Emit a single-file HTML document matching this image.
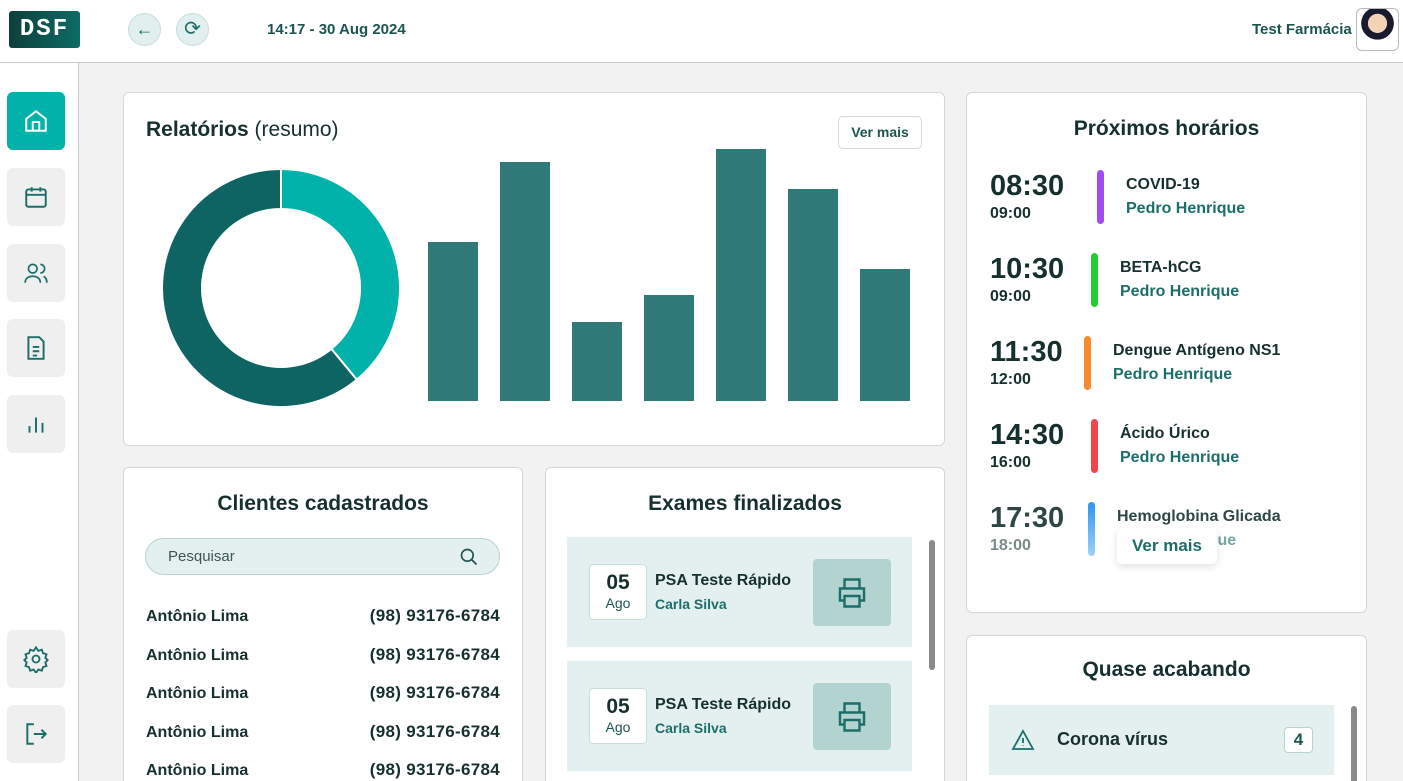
<!DOCTYPE html>
<html><head><meta charset="utf-8"><style>
*{box-sizing:border-box;margin:0;padding:0}
html{width:1403px;height:781px;overflow:hidden}
body{width:1403px;height:781px;overflow:hidden;background:#f2f2f2;font-family:"Liberation Sans",sans-serif;color:#16302e;position:relative}
.abs{position:absolute}
.card{position:absolute;background:#fff;border:1px solid #d6d6d6;border-radius:6px}
.bot{border-bottom:none;border-bottom-left-radius:0;border-bottom-right-radius:0;overflow:hidden}
.side{position:absolute;left:7px;width:58px;height:58px;border-radius:6px;background:#efefef;display:flex;align-items:center;justify-content:center}
.t{position:absolute;white-space:nowrap}
.teal{color:#1b6e6a}
.ex{position:absolute;left:21px;width:345px;height:110px;background:#e4f0ef}
.cl{position:absolute;left:22px;right:22px;height:20px;line-height:20px;font-weight:bold;font-size:16px;display:flex;justify-content:space-between;align-items:baseline}
.cl span+span{font-size:17px;letter-spacing:.3px}
</style></head><body>
<div class="abs" style="left:0;top:0;width:1403px;height:63px;background:#fff;border-bottom:1px solid #ccc"></div>
<div class="abs" style="left:9px;top:11px;width:71px;height:37px;background:linear-gradient(90deg,#0d3f3b,#0d6b66);border-radius:3px;color:#fff;font:bold 24px 'Liberation Mono',monospace;letter-spacing:2px;text-align:center;line-height:37px">DSF</div>
<div class="abs" style="left:128px;top:13px;width:33px;height:33px;border-radius:50%;background:#e1efee;border:1px solid #c9dddb;text-align:center;line-height:31px;color:#1b6e6a;font-size:18px">←</div>
<div class="abs" style="left:176px;top:13px;width:33px;height:33px;border-radius:50%;background:#e1efee;border:1px solid #c9dddb;text-align:center;line-height:31px;color:#1b6e6a;font-size:20px">⟳</div>
<div class="t teal" style="left:267px;top:21px;font-weight:bold;font-size:15px;color:#1c5450">14:17 - 30 Aug 2024</div>
<div class="t" style="left:1252px;top:21px;font-weight:bold;font-size:15px;color:#1c5450">Test Farmácia</div>
<div class="abs" style="left:1356px;top:8px;width:43px;height:43px;border-radius:6px;border:1px solid #bbb;background:radial-gradient(circle at 50% 35%,#f3d2b5 0 28%,#1a1a2e 29% 48%,#fff 49%)"></div>
<div class="abs" style="left:0;top:63px;width:79px;height:718px;background:#fff;border-right:1px solid #ccc"></div>
<div class="side" style="top:92px;background:#00b2a9"><svg width="26" height="26" viewBox="0 0 24 24" fill="none" stroke="#fff" stroke-width="1.8"><path d="M3 10l9-7 9 7v11H3z M9 21v-8h6v8"/></svg></div>
<div class="side" style="top:168px"><svg width="26" height="26" viewBox="0 0 24 24" fill="none" stroke="#1b6e6a" stroke-width="1.8"><rect x="3" y="5" width="18" height="16" rx="2"/><path d="M3 10h18M8 3v4M16 3v4"/></svg></div>
<div class="side" style="top:244px"><svg width="28" height="26" viewBox="0 0 24 24" fill="none" stroke="#1b6e6a" stroke-width="1.6"><circle cx="9" cy="8" r="4"/><path d="M2 21c0-4 3-6 7-6s7 2 7 6M16 4a4 4 0 010 8M19 15c2 1 3 3 3 6"/></svg></div>
<div class="side" style="top:319px"><svg width="26" height="26" viewBox="0 0 24 24" fill="none" stroke="#1b6e6a" stroke-width="1.8"><path d="M5 2h10l4 4v16H5z M9 11h6M9 15h6M9 19h4"/></svg></div>
<div class="side" style="top:395px"><svg width="26" height="26" viewBox="0 0 24 24" fill="none" stroke="#1b6e6a" stroke-width="1.8"><path d="M6 20v-6M12 20V6M18 20v-9"/></svg></div>
<div class="side" style="top:630px"><svg width="28" height="28" viewBox="0 0 24 24" fill="none" stroke="#1b6e6a" stroke-width="1.6"><circle cx="12" cy="12" r="3"/><path d="M12 2l2 3 3-1 1 3 3 1-1 3 2 2-2 2 1 3-3 1-1 3-3-1-2 3-2-3-3 1-1-3-3-1 1-3-2-2 2-2-1-3 3-1 1-3 3 1z"/></svg></div>
<div class="side" style="top:705px"><svg width="26" height="26" viewBox="0 0 24 24" fill="none" stroke="#1b6e6a" stroke-width="1.8"><path d="M10 3H4v18h6M10 12h11M17 8l4 4-4 4"/></svg></div>

<div class="card" style="left:123px;top:92px;width:822px;height:354px">
<div class="t" style="left:22px;top:25px;font-size:21px"><b>Relatórios</b> (resumo)</div>
<div class="abs" style="left:714px;top:23px;width:84px;height:33px;border:1px solid #d6d6d6;border-radius:5px;font-weight:bold;font-size:14px;color:#1c5450;text-align:center;line-height:31px">Ver mais</div>
</div>
<svg class="abs" id="chart" style="left:0;top:0" width="1403" height="781"></svg>

<div class="card" style="left:966px;top:92px;width:401px;height:521px;overflow:hidden">
<div class="t" style="left:0;width:399px;text-align:center;top:24px;font-weight:bold;font-size:21px">Próximos horários</div>
<div id="sched"></div>
<div class="abs" style="left:150px;top:435px;width:100px;height:36px;background:#fff;border-radius:5px;box-shadow:0 3px 8px rgba(0,0,0,.12);font-weight:bold;font-size:17px;color:#1b6e6a;text-align:center;line-height:36px">Ver mais</div>
</div>

<div class="card bot" style="left:123px;top:467px;width:400px;height:314px">
<div class="t" style="left:0;width:398px;text-align:center;top:24px;font-weight:bold;font-size:21px">Clientes cadastrados</div>
<div class="abs" style="left:21px;top:70px;width:355px;height:37px;border:1px solid #b9d3d1;background:#e4f0ef;border-radius:19px;font-size:15px;color:#3d5553;padding:9px 22px">Pesquisar<svg style="position:absolute;right:20px;top:8px" width="20" height="20" viewBox="0 0 24 24" fill="none" stroke="#1c5450" stroke-width="2"><circle cx="10" cy="10" r="7"/><path d="M15 15l6 6"/></svg></div>
<div class="cl" style="top:138px"><span>Antônio Lima</span><span>(98) 93176-6784</span></div>
<div class="cl" style="top:177px"><span>Antônio Lima</span><span>(98) 93176-6784</span></div>
<div class="cl" style="top:215px"><span>Antônio Lima</span><span>(98) 93176-6784</span></div>
<div class="cl" style="top:254px"><span>Antônio Lima</span><span>(98) 93176-6784</span></div>
<div class="cl" style="top:292px"><span>Antônio Lima</span><span>(98) 93176-6784</span></div>
</div>

<div class="card bot" style="left:545px;top:467px;width:400px;height:314px">
<div class="t" style="left:0;width:398px;text-align:center;top:24px;font-weight:bold;font-size:21px">Exames finalizados</div>
<div class="abs" style="left:383px;top:72px;width:6px;height:130px;background:#8a8a8a;border-radius:3px"></div>
<div class="ex" style="top:69px">
<div class="abs" style="left:22px;top:27px;width:58px;height:56px;background:#fff;border:1px solid #c9dddb;border-radius:4px;text-align:center"><div style="font-size:21px;font-weight:bold;margin-top:6px">05</div><div style="font-size:14px;color:#1c5450">Ago</div></div>
<div class="t" style="left:88px;top:35px;font-weight:bold;font-size:16px">PSA Teste Rápido</div>
<div class="t teal" style="left:88px;top:59px;font-weight:bold;font-size:14px">Carla Silva</div>
<div class="abs" style="left:246px;top:22px;width:78px;height:67px;background:#b3d3d1;border-radius:4px;display:flex;align-items:center;justify-content:center"><svg width="36" height="36" viewBox="0 0 24 24" fill="none" stroke="#1b6e6a" stroke-width="1.6"><path d="M7 9V3h10v6M7 17H4V9h16v8h-3M7 14h10v7H7z"/></svg></div></div>
<div class="ex" style="top:193px">
<div class="abs" style="left:22px;top:27px;width:58px;height:56px;background:#fff;border:1px solid #c9dddb;border-radius:4px;text-align:center"><div style="font-size:21px;font-weight:bold;margin-top:6px">05</div><div style="font-size:14px;color:#1c5450">Ago</div></div>
<div class="t" style="left:88px;top:35px;font-weight:bold;font-size:16px">PSA Teste Rápido</div>
<div class="t teal" style="left:88px;top:59px;font-weight:bold;font-size:14px">Carla Silva</div>
<div class="abs" style="left:246px;top:22px;width:78px;height:67px;background:#b3d3d1;border-radius:4px;display:flex;align-items:center;justify-content:center"><svg width="36" height="36" viewBox="0 0 24 24" fill="none" stroke="#1b6e6a" stroke-width="1.6"><path d="M7 9V3h10v6M7 17H4V9h16v8h-3M7 14h10v7H7z"/></svg></div></div>
</div>

<div class="card bot" style="left:966px;top:635px;width:401px;height:146px">
<div class="t" style="left:0;width:399px;text-align:center;top:22px;font-weight:bold;font-size:21px">Quase acabando</div>
<div class="abs" style="left:384px;top:70px;width:6px;height:76px;background:#8a8a8a;border-radius:3px 3px 0 0"></div>
<div class="abs" style="left:22px;top:69px;width:345px;height:70px;background:#e4f0ef">
<svg class="abs" style="left:21px;top:23px" width="26" height="24" viewBox="0 0 24 24" fill="none" stroke="#1b6e6a" stroke-width="1.8"><path d="M12 3l10 18H2z M12 10v5M12 17.5v.5"/></svg>
<div class="t" style="left:68px;top:24px;font-weight:bold;font-size:18px">Corona vírus</div>
<div class="abs" style="left:295px;top:22px;width:29px;height:26px;background:#fff;border:1px solid #b9d3d1;border-radius:4px;text-align:center;line-height:24px;font-weight:bold;font-size:17px;color:#1c5450">4</div></div>
</div>

<script>
const donutLabels=["A","B"];
const donutValues=[39,61];
const barCategories=["1","2","3","4","5","6","7"];
const barValues=[159,239,79,106,252,212,132];
const schedStart=["08:30","10:30","11:30","14:30","17:30"];
const schedEnd=["09:00","09:00","12:00","16:00","18:00"];
const schedExam=["COVID-19","BETA-hCG","Dengue Antígeno NS1","Ácido Úrico","Hemoglobina Glicada"];
const schedName=["Pedro Henrique","Pedro Henrique","Pedro Henrique","Pedro Henrique","Pedro Henrique"];
const schedColor=["#a24cf0","#22cc33","#f58a2e","#f0454a","#3b9cf5"];

const NS="http://www.w3.org/2000/svg";
const svg=document.getElementById('chart');
const cx=281,cy=288,R=119,r=79,colors=["#00b2aa","#0e6462"];
const total=donutValues.reduce((a,b)=>a+b,0);
let ang=0;
function pt(a,rad){return [cx+rad*Math.sin(a),cy-rad*Math.cos(a)];}
donutValues.forEach((v,i)=>{
  const a0=ang,a1=ang+v/total*2*Math.PI;ang=a1;
  const large=(a1-a0)>Math.PI?1:0;
  const [x0,y0]=pt(a0,R),[x1,y1]=pt(a1,R),[x2,y2]=pt(a1,r),[x3,y3]=pt(a0,r);
  const p=document.createElementNS(NS,'path');
  p.setAttribute('d',`M${x0} ${y0}A${R} ${R} 0 ${large} 1 ${x1} ${y1}L${x2} ${y2}A${r} ${r} 0 ${large} 0 ${x3} ${y3}Z`);
  p.setAttribute('fill',colors[i]);p.setAttribute('stroke','#fff');p.setAttribute('stroke-width','2');
  
  
  svg.appendChild(p);
});
const base=401,x0=428,step=72,bw=50;
const yScale=v=>v*1;
barValues.forEach((v,i)=>{
  const h=yScale(v);
  const b=document.createElementNS(NS,'rect');
  b.setAttribute('x',x0+i*step);b.setAttribute('y',base-h);b.setAttribute('width',bw);b.setAttribute('height',h);
  b.setAttribute('fill','#2f7a78');
  
  
  svg.appendChild(b);
});
const sc=document.getElementById('sched');
const barX=[130,124,117,124,121];
schedStart.forEach((s,i)=>{
  const top=77+i*83, last=i===4;
  const d=document.createElement('div');
  
  
  d.style.cssText=`position:absolute;left:0;top:${top}px;width:399px;height:70px;`;
  const bx=barX[i];
  d.innerHTML=`<div style="position:absolute;left:23px;top:0;font-weight:bold;font-size:29px;color:${last?'#2e4745':'#16302e'}">${s}</div>
  <div style="position:absolute;left:23px;top:35px;font-weight:bold;font-size:16px;color:${last?'#7a8a88':'#16302e'}">${schedEnd[i]}</div>
  <div style="position:absolute;left:${bx}px;top:0;width:7px;height:54px;border-radius:4px;background:${last?'linear-gradient(#2d94f5,#9fd0fb)':schedColor[i]}"></div>
  <div style="position:absolute;left:${bx+29}px;top:6px;font-weight:bold;font-size:16px;white-space:nowrap;color:${last?'#2e4745':'#16302e'}">${schedExam[i]}</div>
  <div style="position:absolute;left:${bx+29}px;top:30px;font-weight:bold;font-size:16px;color:${last?'#6fa8a5':'#1b6e6a'};white-space:nowrap">${schedName[i]}</div>`;
  sc.appendChild(d);
});
</script>
</body></html>
